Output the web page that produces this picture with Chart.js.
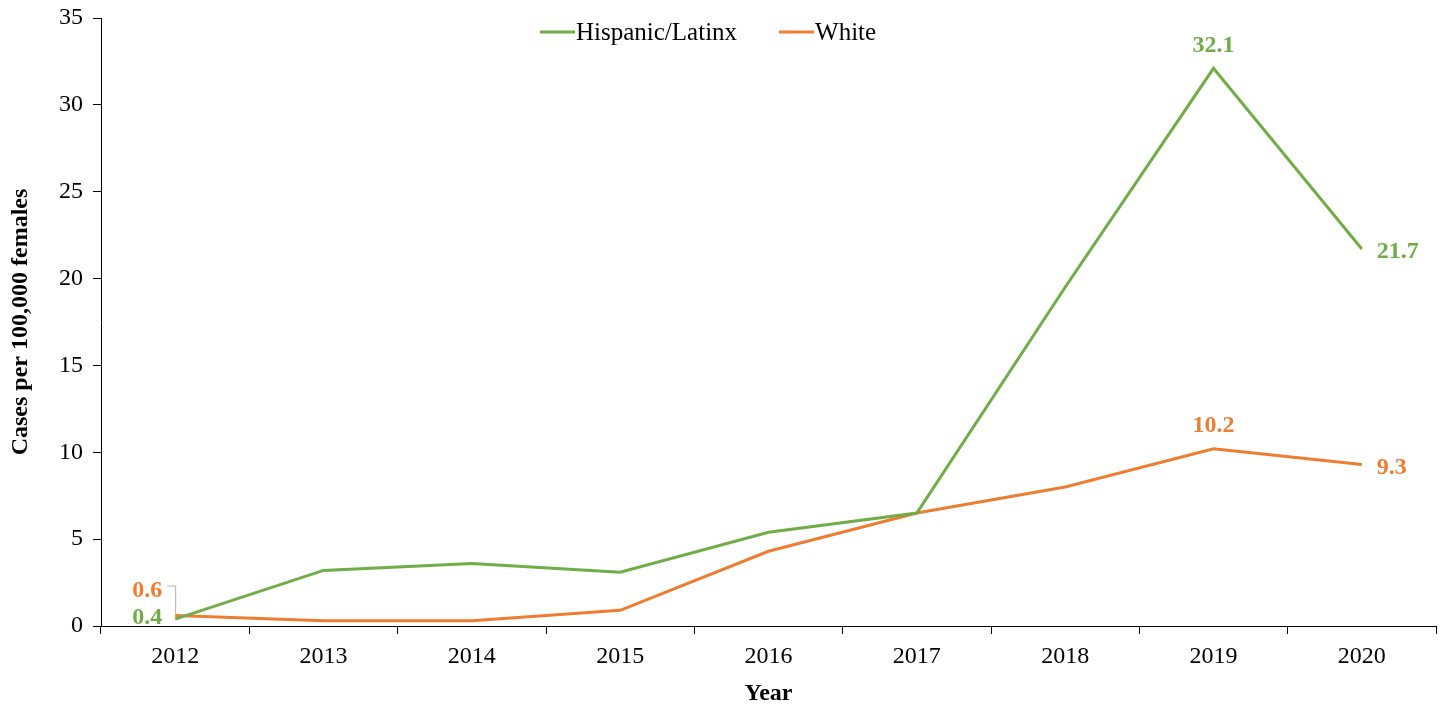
<!DOCTYPE html>
<html>
<head>
<meta charset="utf-8">
<script src="https://cdn.jsdelivr.net/npm/chart.js@4"></script>
<style>
  html, body { margin: 0; padding: 0; background: #fff; }
  #wrap { width: 1445px; height: 706px; }
</style>
</head>
<body>
<div id="wrap"><canvas id="line"></canvas></div>
<script>
    const years = ['2012', '2013', '2014', '2015', '2016', '2017', '2018', '2019', '2020'];
    const hispanicRates = [0.4, 3.2, 3.6, 3.1, 5.4, 6.5, 19.5, 32.1, 21.7];
    const whiteRates = [0.6, 0.3, 0.3, 0.9, 4.3, 6.5, 8.0, 10.2, 9.3];
    const yTicks = [0, 5, 10, 15, 20, 25, 30, 35];

    const green = '#70AD47';
    const orange = '#ED7D31';
    const serif = "'Liberation Serif', 'Times New Roman', serif";

    // which points get a value label, and where it sits
    const labelSpots = [
        [{ i: 0, at: 'left' }, { i: 7, at: 'above' }, { i: 8, at: 'right' }],
        [{ i: 0, at: 'leader' }, { i: 7, at: 'above' }, { i: 8, at: 'right' }]
    ];

    const valueLabels = {
        id: 'valueLabels',
        afterDatasetsDraw(chart) {
            const ctx = chart.ctx;
            ctx.save();
            ctx.font = 'bold 24px ' + serif;
            ctx.textBaseline = 'middle';
            chart.data.datasets.forEach((ds, d) => {
                const meta = chart.getDatasetMeta(d);
                labelSpots[d].forEach(s => {
                    const pt = meta.data[s.i];
                    const txt = ds.data[s.i].toFixed(1);
                    ctx.fillStyle = ds.borderColor;
                    if (s.at === 'above') {
                        ctx.textAlign = 'center';
                        ctx.fillText(txt, pt.x, pt.y - 23);
                    } else if (s.at === 'right') {
                        ctx.textAlign = 'left';
                        ctx.fillText(txt, pt.x + 15, pt.y + 3);
                    } else if (s.at === 'left') {
                        ctx.textAlign = 'right';
                        ctx.fillText(txt, pt.x - 13, pt.y - 1);
                    } else if (s.at === 'leader') {
                        ctx.textAlign = 'right';
                        ctx.fillText(txt, pt.x - 13, pt.y - 25);
                        ctx.strokeStyle = '#b0b0b0';
                        ctx.lineWidth = 1;
                        ctx.beginPath();
                        ctx.moveTo(pt.x - 8, pt.y - 29.5);
                        ctx.lineTo(pt.x + 0.5, pt.y - 29.5);
                        ctx.lineTo(pt.x + 0.5, pt.y - 2);
                        ctx.stroke();
                    }
                });
            });
            ctx.restore();
        }
    };

    const topLegend = {
        id: 'topLegend',
        afterDraw(chart) {
            const ctx = chart.ctx;
            ctx.save();
            ctx.font = '25px ' + serif;
            ctx.textBaseline = 'middle';
            ctx.textAlign = 'left';
            let x = 540;
            const y = 32;
            chart.data.datasets.forEach(ds => {
                ctx.strokeStyle = ds.borderColor;
                ctx.lineWidth = 3;
                ctx.beginPath();
                ctx.moveTo(x, y);
                ctx.lineTo(x + 35, y);
                ctx.stroke();
                ctx.fillStyle = '#000';
                ctx.fillText(ds.label, x + 36, y + 1);
                x += 36 + ctx.measureText(ds.label).width + 42;
            });
            ctx.restore();
        }
    };

    // the layout keeps a 22px top margin; pull the plot top up to 18px like the original
    const plotTop = 18;
    const pinTop = {
        id: 'pinTop',
        afterLayout(chart) {
            const area = chart.chartArea;
            const y = chart.scales.y;
            area.top = plotTop;
            area.height = area.bottom - plotTop;
            y.top = plotTop;
            y.height = y.bottom - plotTop;
            y.configure();
        }
    };

    const ctx1 = document.getElementById('line').getContext('2d');
    const line = new Chart(ctx1, {
        type: 'line',
        data: {
            labels: years,
            datasets: [{
                label: 'Hispanic/Latinx',
                data: hispanicRates,
                borderColor: green,
                backgroundColor: green,
                borderWidth: 3,
                pointRadius: 0,
                tension: 0
            }, {
                label: 'White',
                data: whiteRates,
                borderColor: orange,
                backgroundColor: orange,
                borderWidth: 3,
                pointRadius: 0,
                tension: 0
            }]
        },
        options: {
            responsive: true,
            maintainAspectRatio: false,
            animation: false,
            layout: {
                autoPadding: false,
                padding: { top: 14, right: 9, left: 7, bottom: 0 }
            },
            plugins: {
                legend: { display: false },
                tooltip: { enabled: false }
            },
            scales: {
                x: {
                    offset: true,
                    grid: {
                        offset: true,
                        drawOnChartArea: false,
                        tickLength: 8,
                        color: '#000'
                    },
                    border: { color: '#000', width: 1 },
                    ticks: {
                        color: '#000',
                        font: { family: serif, size: 24, lineHeight: 1 },
                        padding: 11,
                        maxRotation: 0
                    },
                    title: {
                        display: true,
                        text: 'Year',
                        color: '#000',
                        font: { family: serif, size: 24, weight: 'bold', lineHeight: 1 },
                        padding: { top: 2, bottom: 0 }
                    }
                },
                y: {
                    min: 0,
                    max: 35,
                    afterBuildTicks(axis) {
                        axis.ticks = yTicks.map(v => ({ value: v }));
                    },
                    grid: {
                        drawOnChartArea: false,
                        tickLength: 8,
                        color: '#000'
                    },
                    border: { color: '#000', width: 1 },
                    ticks: {
                        color: '#000',
                        font: { family: serif, size: 24, lineHeight: 1 },
                        padding: 10
                    },
                    title: {
                        display: true,
                        text: 'Cases per 100,000 females',
                        color: '#000',
                        font: { family: serif, size: 24, weight: 'bold', lineHeight: 1 },
                        padding: { top: 2, bottom: 16 }
                    }
                }
            }
        },
        plugins: [pinTop, valueLabels, topLegend]
    });
</script>
</body>
</html>
